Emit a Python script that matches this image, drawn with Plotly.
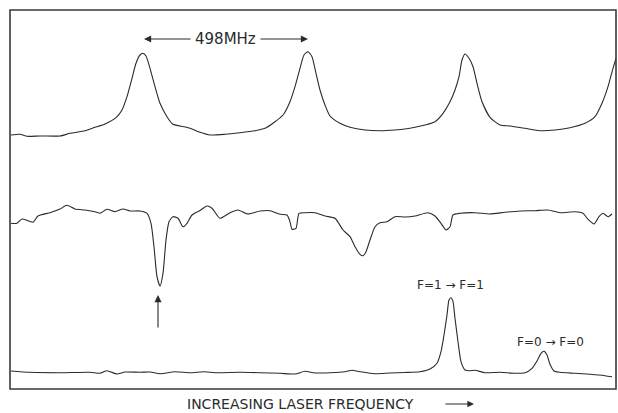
import plotly.graph_objects as go

# ---- data (scan position vs. signal, picture units) ----
fp_x = [11, 20, 27, 40, 60, 70, 85, 95, 105, 116, 122, 127, 132, 136, 140, 143, 146, 150, 155, 160,
        167, 173, 180, 190, 200, 210, 225, 240, 255, 265, 275, 283, 290, 295, 300, 304, 308, 312,
        316, 320, 325, 330, 340, 350, 365, 380, 395, 405, 415, 425, 435, 443, 450, 455, 459, 462,
        465, 469, 473, 477, 482, 490, 500, 510, 525, 540, 555, 570, 585, 595, 602, 608, 613, 616]
fp_y = [135, 134.3, 136.3, 136, 136, 133.3, 130.7, 127.3, 124, 117.7, 110, 96.7, 78.3, 63.3, 55, 53.3,
        56, 68.3, 86.7, 103.3, 116.7, 124.3, 126, 128.3, 132.3, 135, 134.3, 132.7, 130.7, 128.3,
        121.7, 115, 101.7, 86.7, 68.3, 55, 51.7, 56.7, 73.3, 90, 105, 116, 123.3, 127.3, 130,
        130.7, 130, 129, 127.3, 125, 121.7, 113.3, 101.7, 90, 76.7, 60, 54, 58.3, 66.7, 83.3,
        101.7, 117.3, 125, 126, 128.3, 130.7, 130, 127.7, 123.3, 116.7, 103.3, 86.7, 68.3, 58.3]

sat_x = [11, 17, 22, 28, 33, 38, 50, 60, 67, 75, 85, 95, 100, 107, 115, 123, 130, 140, 147, 151,
         154, 157, 160, 163, 166, 169, 173, 178, 183, 187, 192, 200, 207, 212, 220, 230, 238, 248,
         260, 270, 280, 287, 290, 292, 296, 299, 305, 315, 325, 335, 343, 350, 355, 360, 363, 366,
         370, 375, 380, 387, 395, 405, 415, 428, 435, 441, 446, 450, 453, 460, 475, 490, 505, 520,
         535, 548, 560, 575, 583, 588, 594, 599, 603, 608, 612]
sat_y = [223.3, 223.3, 219, 220.7, 222.3, 216, 212.7, 209, 205.3, 209, 210, 211.7, 213.3, 209.3,
         211.7, 209, 211, 211, 213.3, 223.3, 246.7, 276.7, 286, 273.3, 240, 221.7, 216.7, 218.3,
         226.7, 223.3, 215, 210.5, 206, 208.3, 218.3, 212.7, 210, 214, 211, 210.7, 214.3, 215,
         221.7, 229.3, 228.3, 213.3, 212.7, 212.7, 216, 218.3, 230, 236.7, 246.7, 254.3, 255.7,
         251.7, 240, 226.7, 222.7, 221.7, 216.7, 217, 216, 212.7, 216, 223.3, 230, 226.7, 215,
         213.3, 212.7, 214, 212.3, 211, 210.7, 210, 212.7, 211.7, 213.3, 219.3, 224, 216.7, 213.3,
         216.7, 214]

flu_x = [11, 30, 60, 90, 100, 107, 117, 125, 140, 150, 160, 175, 190, 205, 215, 240, 260, 280, 295,
         305, 315, 330, 345, 352, 360, 375, 390, 405, 420, 430, 437, 441, 444, 447, 449, 451, 453,
         455, 458, 461, 465, 470, 475, 485, 500, 515, 525, 532, 537, 541, 544, 547, 550, 554, 560,
         575, 590, 605, 612]
flu_y = [371, 372.3, 372.7, 372.3, 373.3, 370.7, 374, 372, 372.3, 372, 373.7, 371.7, 372.7, 371.7,
         372.7, 372.3, 372.7, 373.3, 374, 371.3, 373, 372.7, 371.7, 370.3, 371.7, 373.7, 373, 372.5,
         371.7, 369, 363.3, 351.7, 335, 315, 300, 297.7, 301.7, 318.3, 341.7, 361.7, 370, 370.7,
         370.3, 372.7, 372.3, 373.3, 372.7, 368.3, 361, 353.3, 351.3, 355, 364.3, 371, 372.3,
         373.3, 374.3, 375.7, 376.7]

fsr_label = "498MHz"
axis_label = "INCREASING LASER FREQUENCY"
line_labels = ["F=1 → F=1", "F=0 → F=0"]
line_label_x = [450, 550]
line_label_y = [285, 342]

# ---- figure ----
ink = "#2b2b2b"
font_fam = "DejaVu Sans, Liberation Sans, sans-serif"

fig = go.Figure()
for xs, ys in [(fp_x, fp_y), (sat_x, sat_y), (flu_x, flu_y)]:
    fig.add_trace(go.Scatter(x=xs, y=ys, mode="lines",
                             line=dict(color=ink, width=1.1, shape="spline", smoothing=0.6),
                             hoverinfo="skip", showlegend=False))

# frame
fig.add_shape(type="rect", x0=10, x1=616, y0=10, y1=389, xref="x", yref="y",
              line=dict(color="#3a3a3a", width=1.6), fillcolor="rgba(0,0,0,0)")

# 498 MHz spacing label with arrows
fig.add_annotation(x=225.5, y=39, text=fsr_label, showarrow=False,
                   font=dict(family=font_fam, size=15, color=ink))
fig.add_annotation(x=144, y=39, ax=192, ay=39, axref="x", ayref="y", text="",
                   showarrow=True, arrowhead=2, arrowsize=1.3, arrowwidth=1.1, arrowcolor=ink)
fig.add_annotation(x=308, y=39, ax=259, ay=39, axref="x", ayref="y", text="",
                   showarrow=True, arrowhead=2, arrowsize=1.3, arrowwidth=1.1, arrowcolor=ink)

# vertical marker arrow below the strong dip
fig.add_annotation(x=158, y=295, ax=158, ay=329, axref="x", ayref="y", text="",
                   showarrow=True, arrowhead=2, arrowsize=1.3, arrowwidth=1.1, arrowcolor=ink)

# transition labels
for t, lx, ly in zip(line_labels, line_label_x, line_label_y):
    fig.add_annotation(x=lx, y=ly, text=t, showarrow=False,
                       font=dict(family=font_fam, size=12, color=ink))

# bottom axis caption with arrow
fig.add_annotation(x=300, y=404, text=axis_label, showarrow=False,
                   font=dict(family=font_fam, size=14, color=ink))
fig.add_annotation(x=474, y=404, ax=444, ay=404, axref="x", ayref="y", text="",
                   showarrow=True, arrowhead=2, arrowsize=1.2, arrowwidth=1.1, arrowcolor=ink)

fig.update_xaxes(range=[0, 618], visible=False, fixedrange=True)
fig.update_yaxes(range=[413, 0], visible=False, fixedrange=True)
fig.update_layout(width=618, height=413, margin=dict(l=0, r=0, t=0, b=0),
                  paper_bgcolor="white", plot_bgcolor="white")

fig.write_html("out.html", config={"displayModeBar": False},
               post_script="document.body.style.margin='0';document.body.style.overflow='hidden';")
